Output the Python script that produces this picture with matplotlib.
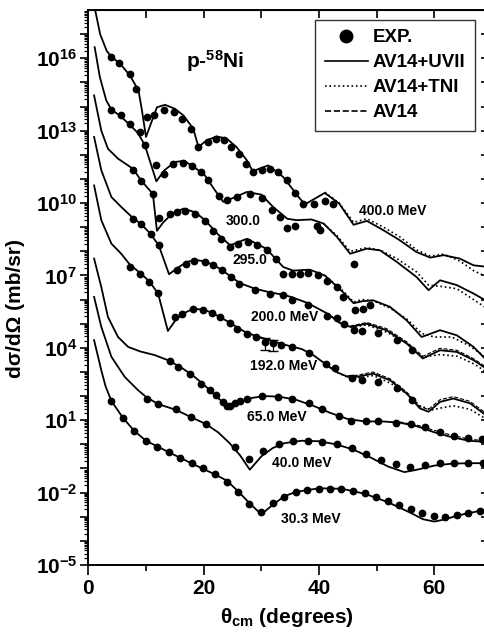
import numpy as np
import matplotlib
matplotlib.use('Agg')
import matplotlib.pyplot as plt
from matplotlib.lines import Line2D
from matplotlib.ticker import FixedLocator, LogLocator, FuncFormatter, NullFormatter

plt.rcParams['font.family'] = ['Liberation Sans', 'DejaVu Sans']
plt.rcParams['font.weight'] = 'bold'
plt.rcParams['mathtext.fontset'] = 'custom'
plt.rcParams['mathtext.rm'] = 'Liberation Sans:bold'
plt.rcParams['mathtext.bf'] = 'Liberation Sans:bold'
plt.rcParams['mathtext.it'] = 'Liberation Sans:bold:italic'
plt.rcParams['mathtext.default'] = 'bf'

# all cross sections stored as log10 (offset curves, mb/sr)

# 400 MeV
x400_exp = [3.9, 5.4, 7.3, 8.3, 10.1, 11.4, 13.1, 14.9, 16.3, 17.8, 19.0, 20.8, 22.2, 23.5,
            24.8, 26.1, 27.4, 28.6, 30.1, 31.5, 32.9, 34.4, 35.8, 37.3, 39.1, 41.0, 42.5]
y400_exp = [16.05, 15.80, 15.36, 14.74, 13.56, 13.63, 13.84, 13.77, 13.50, 13.08, 12.32, 12.53, 12.67, 12.60,
            12.32, 12.05, 11.63, 11.29, 11.36, 11.43, 11.29, 10.94, 10.40, 9.98, 9.95, 10.10, 9.98]
x400_uv = [1.0, 1.2, 2.05, 3.2, 4.05, 5.5, 7.2, 8.7, 9.3, 10.0, 11.9, 13.3, 15.0, 16.5, 18.2, 19.1,
           20.5, 22.3, 24.0, 25.7, 27.5, 28.5, 31.2, 33.8, 36.7, 37.6, 41.0, 43.5, 46.0, 48.3,
           51.2, 54.0, 56.9, 59.3, 61.6, 64.4, 66.8, 69.0]
y400_uv = [18.4, 17.98, 17.0, 16.3, 16.05, 15.78, 15.29, 14.67, 13.84, 12.74, 13.97, 14.07, 13.91, 13.63, 13.08, 12.32,
           12.6, 12.76, 12.67, 12.32, 11.77, 11.32, 11.56, 11.08, 10.18, 9.95, 10.42, 9.98, 9.1, 9.26,
           8.87, 8.46, 7.97, 7.74, 7.84, 7.70, 7.42, 7.36]
x400_tni = [41.0, 43.5, 46.0, 48.3, 51.2, 54.0, 57.0, 59.3, 61.6, 64.4, 66.8, 69.0]
y400_tni = [10.45, 10.0, 9.2, 9.35, 9.0, 8.6, 8.05, 7.8, 7.88, 7.6, 7.2, 6.95]

# 300 MeV
x300_exp = [4.0, 5.7, 7.2, 8.9, 9.8, 11.8, 13.2, 14.7, 16.4, 17.9, 19.6, 20.8, 22.6, 24.0,
            25.8, 28.0, 30.1, 31.8, 33.2, 34.4, 35.8, 39.6, 40.2, 46.0]
y300_exp = [13.87, 13.63, 13.29, 12.94, 12.39, 11.56, 11.22, 11.63, 11.67, 11.53, 11.29, 10.94, 10.3, 10.11,
            10.25, 10.37, 10.2, 9.70, 9.42, 8.96, 9.03, 9.04, 8.87, 7.49]
x300_uv = [1.1, 2.0, 3.1, 4.0, 5.5, 7.3, 8.6, 9.8, 11.0, 11.8, 13.2, 15.0, 16.6, 18.3, 20.2, 21.9,
           23.4, 25.0, 27.5, 30.0, 32.0, 34.5, 36.1, 38.7, 40.8, 43.1, 45.4, 48.3, 50.6, 53.5,
           56.9, 59.0, 61.0, 63.9, 66.8, 69.0]
y300_uv = [16.46, 15.22, 14.26, 13.87, 13.62, 13.22, 12.9, 12.4, 11.5, 10.9, 11.36, 11.7, 11.75, 11.5, 11.15, 10.55,
           10.05, 10.2, 10.46, 10.35, 9.85, 9.35, 9.29, 9.32, 9.15, 8.6, 7.9, 8.11, 8.04, 7.56,
           6.94, 6.39, 6.80, 6.6, 6.25, 5.95]
x300_tni = [40.8, 43.1, 45.4, 48.3, 50.6, 53.5, 56.9, 59.0, 61.0, 63.9, 66.8, 69.0]
y300_tni = [9.15, 8.65, 8.0, 8.15, 8.05, 7.7, 7.15, 6.6, 6.55, 6.45, 6.0, 5.65]

# 295 MeV
x295_exp = [7.8, 9.2, 11.2, 12.3, 14.2, 15.3, 16.8, 18.5, 20.2, 21.7, 23.0, 24.6, 26.0, 27.7,
            29.2, 30.9, 32.5, 33.8, 35.3, 36.7, 38.1, 39.9, 41.4, 43.1, 44.2, 46.2, 47.6, 48.8]
y295_exp = [11.38, 10.9, 10.37, 9.40, 9.53, 9.63, 9.66, 9.56, 9.26, 8.84, 8.49, 8.18, 8.32, 8.39,
            8.25, 8.04, 7.68, 7.08, 7.05, 7.07, 7.09, 7.0, 6.77, 6.52, 6.11, 5.56, 5.60, 5.77]
x295_uv = [1.0, 2.25, 3.4, 5.15, 7.75, 9.2, 11.2, 11.9, 13.0, 14.5, 16.5, 18.5, 20.2, 22.5, 24.6,
           27.5, 30.9, 33.8, 35.5, 38.4, 41.0, 44.2, 46.0, 47.5, 49.4, 52.3, 55.2, 57.8, 61.0,
           63.9, 66.8, 69.0]
y295_uv = [14.46, 13.0, 12.25, 11.84, 11.42, 10.92, 10.38, 8.85, 9.2, 9.55, 9.77, 9.62, 9.3, 8.7, 8.25,
           8.52, 8.1, 7.35, 7.2, 7.24, 7.0, 6.3, 5.85, 5.93, 5.97, 5.7, 5.14, 4.45, 4.73,
           4.52, 4.04, 3.5]
x295_tni = [41.0, 44.2, 46.0, 47.5, 49.4, 52.3, 55.2, 57.8, 60.0, 63.0, 66.0, 69.0]
y295_tni = [7.0, 6.35, 5.9, 6.0, 5.95, 5.65, 5.2, 4.6, 4.45, 4.45, 4.1, 3.6]

# 200 MeV
x200_exp = [7.75, 9.2, 10.8, 12.2, 15.4, 17.0, 18.4, 20.2, 21.6, 23.1, 24.7, 26.2, 28.9, 31.5,
            33.8, 35.3, 38.1, 41.4, 43.1, 44.4, 46.0, 47.5, 50.3, 53.5, 56.1]
y200_exp = [9.35, 9.15, 8.73, 8.28, 7.24, 7.49, 7.60, 7.56, 7.42, 7.24, 6.94, 6.66, 6.39, 6.25,
            6.18, 5.97, 5.77, 5.33, 5.22, 5.0, 4.73, 4.68, 4.60, 4.32, 3.90]
x200_uv = [1.0, 2.25, 4.0, 5.7, 7.75, 9.2, 10.8, 12.2, 14.0, 15.4, 17.0, 18.5, 20.2, 21.6, 23.1,
           24.7, 26.3, 28.9, 31.5, 33.8, 35.3, 38.1, 41.6, 43.5, 45.4, 48.3, 51.7, 55.2, 58.0,
           61.0, 63.9, 66.8, 69.0]
y200_uv = [12.74, 11.36, 10.25, 9.84, 9.38, 9.12, 8.72, 8.25, 7.05, 7.3, 7.55, 7.65, 7.58, 7.44, 7.24,
           6.95, 6.68, 6.45, 6.3, 6.2, 6.1, 5.85, 5.4, 5.05, 4.87, 5.0, 4.73, 4.18, 3.56,
           3.9, 3.83, 3.49, 3.14]
x200_tni = [41.6, 43.5, 45.4, 48.3, 51.7, 55.2, 58.0, 61.0, 64.0, 67.0, 69.0]
y200_tni = [5.4, 5.05, 4.85, 4.95, 4.65, 4.2, 3.62, 3.72, 3.65, 3.32, 3.0]
x200_av = [45.4, 48.3, 51.7, 55.2, 58.0, 61.0, 63.9, 66.8, 69.0]
y200_av = [4.9, 5.05, 4.8, 4.25, 3.65, 3.98, 3.9, 3.55, 3.2]

# 192 MeV
x192_exp = [7.2, 8.9, 10.6, 12.1, 15.0, 16.2, 18.2, 19.9, 21.4, 22.8, 24.6, 25.7, 27.5, 29.1,
            30.6, 32.1, 33.5, 35.3, 38.3, 41.3, 42.8, 45.7, 47.4, 50.3, 53.5, 56.2]
y192_exp = [7.35, 7.08, 6.73, 6.28, 5.28, 5.42, 5.63, 5.56, 5.45, 5.28, 5.01, 4.76, 4.59, 4.45,
            4.25, 4.18, 4.11, 4.04, 3.77, 3.35, 3.15, 2.73, 2.66, 2.59, 2.32, 1.83]
x192_bar = [30.6, 32.1]
ylo192_bar = [3.92, 3.88]
yhi192_bar = [4.40, 4.32]
x192_uv = [1.0, 2.25, 4.0, 5.7, 7.2, 9.0, 10.6, 12.1, 13.8, 15.3, 16.7, 18.2, 20.0, 21.5, 23.0,
           24.5, 26.0, 27.5, 29.0, 31.0, 33.0, 35.3, 37.0, 39.0, 41.3, 43.0, 45.0, 46.5, 49.4,
           52.3, 55.2, 57.5, 59.0, 61.0, 63.3, 66.2, 69.0]
y192_uv = [10.73, 9.29, 8.32, 7.9, 7.45, 7.1, 6.75, 6.25, 4.7, 5.2, 5.45, 5.62, 5.58, 5.45, 5.25,
           5.05, 4.82, 4.62, 4.5, 4.35, 4.2, 4.05, 3.95, 3.7, 3.3, 3.0, 2.8, 2.8, 2.93,
           2.66, 2.11, 1.49, 1.35, 1.76, 1.9, 1.7, 1.2]
x192_tni = [41.3, 43.0, 45.0, 46.5, 49.4, 52.3, 55.2, 57.5, 59.5, 61.0, 63.3, 66.2, 69.0]
y192_tni = [3.3, 3.0, 2.78, 2.75, 2.85, 2.55, 2.1, 1.6, 1.42, 1.5, 1.6, 1.45, 1.05]
x192_av = [45.0, 46.5, 49.4, 52.3, 55.2, 57.5, 59.0, 61.0, 63.3, 66.2, 69.0]
y192_av = [2.85, 2.86, 3.0, 2.72, 2.17, 1.56, 1.45, 1.85, 1.98, 1.78, 1.28]

# 65 MeV
x65_exp = [14.2, 15.6, 17.7, 19.6, 21.1, 22.1, 23.3, 24.0, 24.6, 25.5, 26.3, 27.5, 30.2, 32.9,
           35.4, 38.3, 40.6, 43.4, 45.6, 48.2, 50.3, 53.4, 55.9, 58.4, 61.0, 63.4, 65.9, 68.2]
y65_exp = [3.45, 3.22, 2.91, 2.52, 2.27, 2.05, 1.76, 1.58, 1.6, 1.70, 1.79, 1.89, 2.01, 1.97,
           1.89, 1.70, 1.45, 1.17, 0.98, 0.98, 0.98, 0.89, 0.83, 0.72, 0.52, 0.36, 0.25, 0.22]
x65_uv = [1.0, 2.25, 3.4, 5.15, 6.9, 9.0, 11.5, 13.8, 16.0, 18.0, 20.0, 22.0, 24.0, 25.0, 26.5,
          28.5, 30.5, 33.0, 36.0, 39.0, 42.0, 45.0, 48.0, 51.0, 54.0, 57.0, 60.0, 63.0, 66.0, 69.0]
y65_uv = [7.7, 6.52, 5.28, 4.45, 4.04, 3.85, 3.7, 3.49, 3.2, 2.88, 2.48, 2.03, 1.6, 1.64, 1.78,
          1.93, 2.0, 1.98, 1.85, 1.6, 1.3, 1.05, 0.95, 0.95, 0.9, 0.75, 0.5, 0.3, 0.15, 0.1]
x65_av = [54.0, 57.0, 60.0, 63.0, 66.0, 69.0]
y65_av = [0.93, 0.8, 0.58, 0.38, 0.22, 0.14]

# 40 MeV
x40_exp = [10.1, 12.1, 15.2, 17.8, 20.4, 25.4, 27.9, 30.3, 33.1, 35.5, 38.1, 40.6, 43.2, 45.7,
           48.2, 50.8, 53.3, 55.8, 58.3, 60.9, 63.4, 65.9, 68.4]
y40_exp = [1.90, 1.67, 1.45, 1.15, 0.84, -0.10, -0.62, -0.27, 0.01, 0.12, 0.15, 0.11, 0.01, -0.17,
           -0.40, -0.65, -0.82, -0.93, -0.86, -0.79, -0.79, -0.78, -0.79]
x40_uv = [1.0, 2.25, 4.0, 6.3, 8.6, 10.1, 12.1, 15.2, 17.8, 20.4, 22.5, 24.5, 26.3, 28.0, 30.0,
          32.0, 34.0, 37.0, 40.0, 43.0, 46.0, 49.0, 52.0, 54.8, 57.0, 60.0, 63.0, 66.0, 69.0]
y40_uv = [6.11, 4.87, 3.63, 2.80, 2.25, 1.95, 1.67, 1.43, 1.13, 0.84, 0.5, 0.05, -0.45, -1.05, -0.5,
          -0.15, 0.05, 0.15, 0.13, 0.0, -0.22, -0.55, -0.92, -1.15, -1.05, -0.88, -0.8, -0.78, -0.78]

# 30.3 MeV
x30_exp = [3.95, 5.96, 7.98, 9.95, 11.97, 14.0, 15.96, 17.98, 19.95, 21.97, 24.0, 25.96, 27.92,
           29.95, 31.97, 33.93, 35.96, 37.92, 39.95, 41.9, 43.9, 45.95, 47.9, 49.9, 51.9, 53.9,
           55.9, 57.9, 59.9, 61.9, 63.9, 65.9, 67.9]
y30_exp = [1.80, 1.10, 0.56, 0.15, -0.13, -0.33, -0.58, -0.79, -1.0, -1.24, -1.55, -1.99, -2.49,
           -2.82, -2.45, -2.17, -1.99, -1.89, -1.84, -1.84, -1.85, -1.94, -2.03, -2.20, -2.35, -2.52,
           -2.69, -2.86, -2.97, -2.99, -2.93, -2.86, -2.75]
x30_uv = [1.0, 2.25, 3.0, 4.0, 6.0, 8.0, 10.0, 14.0, 18.0, 22.0, 24.0, 26.0, 28.0, 30.0, 32.0,
          34.0, 36.0, 40.0, 44.0, 48.0, 52.0, 56.0, 58.0, 60.0, 62.0, 64.0, 66.0, 69.0]
y30_uv = [4.32, 3.07, 2.4, 1.8, 1.1, 0.55, 0.15, -0.33, -0.8, -1.25, -1.5, -1.95, -2.45, -2.9, -2.5,
          -2.15, -1.97, -1.82, -1.84, -2.05, -2.4, -2.85, -3.1, -3.2, -3.1, -2.95, -2.85, -2.7]

exp_sets = [(x400_exp, y400_exp), (x300_exp, y300_exp), (x295_exp, y295_exp), (x200_exp, y200_exp),
            (x192_exp, y192_exp), (x65_exp, y65_exp), (x40_exp, y40_exp), (x30_exp, y30_exp)]
uv_sets = [(x400_uv, y400_uv), (x300_uv, y300_uv), (x295_uv, y295_uv), (x200_uv, y200_uv),
           (x192_uv, y192_uv), (x65_uv, y65_uv), (x40_uv, y40_uv), (x30_uv, y30_uv)]
tni_sets = [(x400_tni, y400_tni), (x300_tni, y300_tni), (x295_tni, y295_tni),
            (x200_tni, y200_tni), (x192_tni, y192_tni)]
av_sets = [(x200_av, y200_av), (x192_av, y192_av), (x65_av, y65_av)]

fig = plt.figure(figsize=(4.85, 6.37), dpi=100)
ax = fig.add_axes([0.1821, 0.1130, 0.8204, 0.8713])

for xs, ys in uv_sets:
    ax.plot(xs, 10.0 ** np.array(ys), '-', color='k', lw=1.3)
for xs, ys in tni_sets:
    ax.plot(xs, 10.0 ** np.array(ys), ':', color='k', lw=1.2)
for xs, ys in av_sets:
    ax.plot(xs, 10.0 ** np.array(ys), '--', color='k', lw=0.8)
for xs, ys in exp_sets:
    ax.plot(xs, 10.0 ** np.array(ys), 'o', color='k', ms=5.6, mew=0)

yb = 10.0 ** np.array(y192_exp)[[14, 15]]
ax.errorbar(x192_bar, yb, yerr=[yb - 10.0 ** np.array(ylo192_bar), 10.0 ** np.array(yhi192_bar) - yb],
            fmt='none', ecolor='k', elinewidth=0.9, capsize=3.5)

ax.set_yscale('log')
ax.set_xlim(0, 69)
ax.set_ylim(1e-5, 1e18)

ax.yaxis.set_major_locator(FixedLocator([10.0 ** k for k in range(-5, 18)]))
ax.yaxis.set_minor_locator(LogLocator(base=10, subs=np.arange(2, 10), numticks=100))
ax.yaxis.set_major_formatter(FuncFormatter(
    lambda v, p: r'$\mathbf{10^{%d}}$' % round(np.log10(v)) if round(np.log10(v)) % 3 == 1 else ''))
ax.yaxis.set_minor_formatter(NullFormatter())
ax.set_xticks([0, 20, 40, 60])
ax.set_xticks([10, 30, 50], minor=True)
ax.tick_params(axis='y', which='major', direction='out', length=6, width=1.2, labelsize=15, pad=2)
ax.tick_params(axis='y', which='minor', direction='out', length=3, width=0.9)
ax.tick_params(axis='x', which='major', direction='out', length=7, width=1.2, labelsize=15, pad=3)
ax.tick_params(axis='x', which='minor', direction='out', length=4.5, width=1.2)
for sp in ax.spines.values():
    sp.set_linewidth(1.4)

top = ax.secondary_xaxis('top')
top.set_xticks([10, 20, 30, 40, 50, 60])
top.tick_params(direction='in', length=6, width=1.2, labeltop=False)
right = ax.secondary_yaxis('right')
right.set_yticks([10.0 ** k for k in range(-5, 18)])
right.yaxis.set_minor_locator(FixedLocator([]))
right.tick_params(direction='in', length=3.5, width=1.2, labelright=False)

ax.set_xlabel('θ$_{cm}$ (degrees)', fontsize=15, fontweight='bold', labelpad=6)
ax.set_ylabel('dσ/dΩ (mb/sr)', fontsize=15, fontweight='bold')
ax.yaxis.set_label_coords(-0.16, 0.463)

ax.text(22.0, 10 ** 15.87, 'p-$^{58}$Ni', fontsize=15, ha='center', va='center')
for xl, yl, s in [(52.8, 9.67, '400.0 MeV'), (26.8, 9.26, '300.0'), (28.0, 7.63, '295.0'),
                  (34.1, 5.28, '200.0 MeV'), (33.9, 3.24, '192.0 MeV'), (32.7, 1.14, '65.0 MeV'),
                  (37.1, -0.76, '40.0 MeV'), (38.6, -3.1, '30.3 MeV')]:
    ax.text(xl, 10 ** yl, s, fontsize=10, ha='center', va='center')

handles = [Line2D([], [], ls='none', marker='o', color='k', ms=9),
           Line2D([], [], ls='-', color='k', lw=1.2),
           Line2D([], [], ls=':', color='k', lw=1.2),
           Line2D([], [], ls='--', color='k', lw=1.2)]
leg = ax.legend(handles, ['EXP.', 'AV14+UVII', 'AV14+TNI', 'AV14'], loc='upper right',
                bbox_to_anchor=(0.972, 0.982), fontsize=13.5, frameon=True, fancybox=False,
                edgecolor='k', handlelength=2.3, handletextpad=0.27, labelspacing=0.42,
                borderpad=0.5, borderaxespad=0)
leg.get_frame().set_linewidth(1.0)
for t in leg.get_texts():
    t.set_fontweight('bold')

fig.savefig('out.png', dpi=100)
